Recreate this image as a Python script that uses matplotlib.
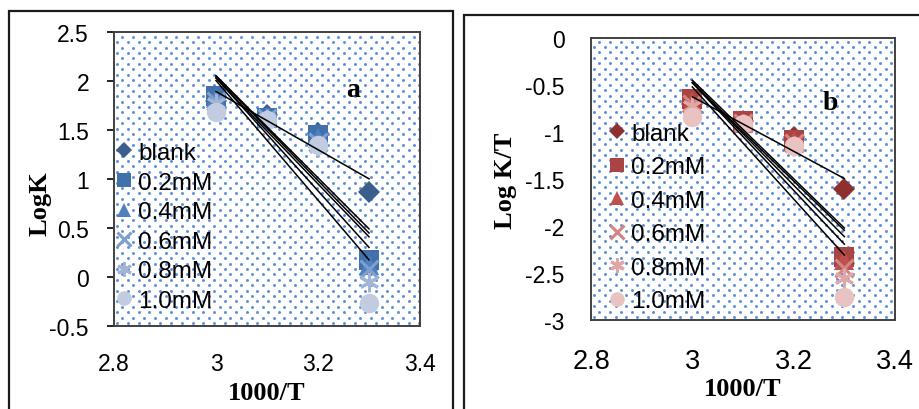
import numpy as np
import matplotlib
matplotlib.use("Agg")
import matplotlib.pyplot as plt
from matplotlib.patches import Rectangle

# data (x = 1000/T)
inv_t = [3.0, 3.1, 3.2, 3.3]
labels = ["blank", "0.2mM", "0.4mM", "0.6mM", "0.8mM", "1.0mM"]

logk = [
    [1.80, 1.65, 1.47, 0.87],
    [1.85, 1.62, 1.45, 0.17],
    [1.83, 1.63, 1.42, 0.12],
    [1.80, 1.62, 1.38, 0.08],
    [1.78, 1.61, 1.33, -0.05],
    [1.68, 1.60, 1.35, -0.27],
]
logk_t = [
    [-0.70, -0.88, -1.05, -1.61],
    [-0.65, -0.88, -1.08, -2.33],
    [-0.68, -0.90, -1.10, -2.36],
    [-0.70, -0.90, -1.12, -2.45],
    [-0.72, -0.92, -1.15, -2.55],
    [-0.84, -0.92, -1.15, -2.75],
]

blues = ["#3A5F8D", "#4270AA", "#4F81BD", "#7F9FCE", "#A2B5D8", "#C2CCE0"]
reds = ["#8C3030", "#A94442", "#C0504D", "#D38583", "#E0A7A6", "#E9C3C2"]
markers = ["D", "s", "^", "x", (6, 2, 0), "o"]
msizes = [11, 14, 14, 13, 14, 14]

W, H = 919, 410
SANS = "Liberation Sans"
SERIF = "Liberation Serif"


def px_axes(fig, l, t, r, b):
    return fig.add_axes([l / W, 1 - b / H, (r - l) / W, (b - t) / H])


def dotted_bg(ax, wpx, hpx):
    # dotted fill of the plot area
    pts = []
    row = 0
    y = 3.0
    while y < hpx:
        x = 3.0 + (5.4 if row % 2 else 0.0)
        while x < wpx:
            pts.append((x / wpx, y / hpx))
            x += 10.8
        y += 5.4
        row += 1
    pts = np.array(pts)
    ax.scatter(pts[:, 0], pts[:, 1], s=4.5, color="#5B8FD6", lw=0,
               transform=ax.transAxes, zorder=0, clip_on=True)


def panel(ax, data, colors, ylim, yticks, ylabel, ylabel_xy, letter, letter_pos,
          leg_anchor, leg_spacing, xtick_size, ypad, xpad, ytick_len, xlabelpad,
          wpx, hpx):
    dotted_bg(ax, wpx, hpx)
    for vals, c, m, ms, lab in zip(data, colors, markers, msizes, labels):
        lw = 2.2 if m in ("x", (6, 2, 0)) else 0
        ax.plot(inv_t, vals, linestyle="none", marker=m, markersize=ms,
                color=c, markeredgecolor=c, markeredgewidth=lw, label=lab, zorder=3)
    # linear trend lines
    for vals in data:
        k, b = np.polyfit(inv_t, vals, 1)
        xs = np.array([inv_t[0], inv_t[-1]])
        ax.plot(xs, k * xs + b, color="black", lw=1.1, zorder=4)

    ax.set_xlim(2.8, 3.4)
    ax.set_ylim(*ylim)
    ax.set_xticks([2.8, 3.0, 3.2, 3.4])
    ax.set_xticklabels(["2.8", "3", "3.2", "3.4"])
    ax.set_yticks(yticks)
    ax.set_yticklabels([("%g" % v) for v in yticks])
    ax.tick_params(axis="x", length=0, pad=xpad, labelsize=xtick_size)
    ax.tick_params(axis="y", length=ytick_len, width=1.2, direction="out",
                   pad=ypad, labelsize=16.5)
    for lbl in ax.get_xticklabels() + ax.get_yticklabels():
        lbl.set_fontfamily(SANS)
    for s in ax.spines.values():
        s.set_color("#404040")
        s.set_linewidth(1.4)

    ax.set_ylabel(ylabel, fontfamily=SERIF, fontweight="bold", fontsize=19)
    ax.yaxis.set_label_coords(*ylabel_xy)
    ax.set_xlabel("1000/T", fontfamily=SERIF, fontweight="bold", fontsize=19,
                  labelpad=xlabelpad)
    ax.text(letter_pos[0], letter_pos[1], letter, transform=ax.transAxes,
            fontfamily=SERIF, fontweight="bold", fontsize=20,
            ha="center", va="center")

    leg = ax.legend(loc="upper left", bbox_to_anchor=leg_anchor, frameon=False,
                    borderpad=0, borderaxespad=0, handlelength=0.8,
                    handletextpad=0.2, labelspacing=leg_spacing,
                    markerscale=0.75, prop={"family": SANS, "size": 17.5})
    leg.set_zorder(5)
    return leg


fig = plt.figure(figsize=(W / 100, H / 100), dpi=100)

# outer frames around each chart
fig.patches.append(Rectangle((9 / W, -0.05), (453 - 9) / W, 1.05 - 12 / H,
                             transform=fig.transFigure, fill=False,
                             edgecolor="#1a1a1a", lw=1.6))
fig.patches.append(Rectangle((464 / W, -0.05), 0.6, 1.05 - 16 / H,
                             transform=fig.transFigure, fill=False,
                             edgecolor="#1a1a1a", lw=1.6))

ax_a = px_axes(fig, 114, 33, 420, 327)
panel(ax_a, logk, blues, (-0.5, 2.5), [-0.5, 0, 0.5, 1, 1.5, 2, 2.5],
      "LogK", (-0.203, 0.418), "a", (0.78, 0.806), (0.0, 0.626), 0.31,
      16.5, 13, 19, 5, 4, 306, 294)

ax_b = px_axes(fig, 591, 39, 895, 321)
panel(ax_b, logk_t, reds, (-3, 0), [-3, -2.5, -2, -1.5, -1, -0.5, 0],
      "Log K/T", (-0.243, 0.496), "b", (0.786, 0.773), (0.053, 0.699), 0.47,
      19.5, 19, 20, 0, 2.5, 304, 282)

fig.savefig("out.png", dpi=100)
